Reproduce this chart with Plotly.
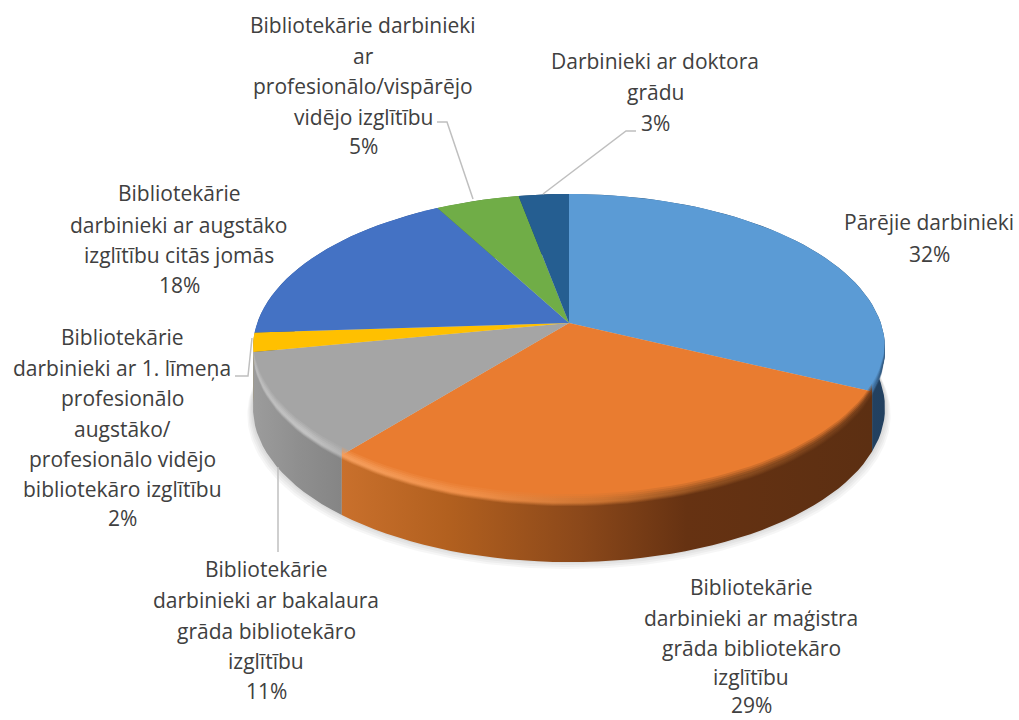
import numpy as np
import plotly.graph_objects as go

# --- data (clockwise from 12 o'clock) ---
categories = ["Pārējie darbinieki",
              "Bibliotekārie darbinieki ar maģistra grāda bibliotekāro izglītību",
              "Bibliotekārie darbinieki ar bakalaura grāda bibliotekāro izglītību",
              "Bibliotekārie darbinieki ar 1. līmeņa profesionālo augstāko/ profesionālo vidējo bibliotekāro izglītību",
              "Bibliotekārie darbinieki ar augstāko izglītību citās jomās",
              "Bibliotekārie darbinieki ar profesionālo/vispārējo vidējo izglītību",
              "Darbinieki ar doktora grādu"]
values = [32, 29, 11, 2, 18, 5, 3]
face_colors = ["#5B9BD5", "#E97C30", "#A5A5A5", "#FFC000", "#4472C4", "#70AD47", "#255E91"]
wall_stops = [
    [[0, "#2B5A85"], [1, "#22405F"]],
    [[0, "#C9702C"], [0.2, "#B2601F"], [0.45, "#8B481A"], [0.65, "#663212"], [1, "#5C2F12"]],
    [[0, "#9C9C9C"], [0.5, "#8F8F8F"], [1, "#858585"]],
    [[0, "#B88A00"], [1, "#B88A00"]],
    [[0, "#2F5597"], [1, "#2F5597"]],
    [[0, "#4E7A31"], [1, "#4E7A31"]],
    [[0, "#1A4266"], [1, "#1A4266"]],
]
rim_stops = [
    [[0, "#3F6F9E"], [1, "#2A4F74"]],
    [[0, "#F59E5C"], [0.25, "#F08F48"], [0.5, "#C97230"], [0.7, "#8A4C1E"], [1, "#6B3817"]],
    [[0, "#BDBDBD"], [0.6, "#C4C4C4"], [1, "#B4B4B4"]],
]

label_lines = [
    ["Pārējie darbinieki", "32%"],
    ["Bibliotekārie", "darbinieki ar maģistra", "grāda bibliotekāro", "izglītību", "29%"],
    ["Bibliotekārie", "darbinieki ar bakalaura", "grāda bibliotekāro", "izglītību", "11%"],
    ["Bibliotekārie", "darbinieki ar 1. līmeņa", "profesionālo", "augstāko/", "profesionālo vidējo",
     "bibliotekāro izglītību", "2%"],
    ["Bibliotekārie", "darbinieki ar augstāko", "izglītību citās jomās", "18%"],
    ["Bibliotekārie darbinieki", "ar", "profesionālo/vispārējo", "vidējo izglītību", "5%"],
    ["Darbinieki ar doktora", "grādu", "3%"],
]
label_x = [929, 751, 266, 122, 179, 363, 655]
label_y = [[222, 254], [587, 618, 648, 677, 705], [569, 600, 631, 661, 691],
           [337, 368, 398, 429, 459, 489, 518], [193, 225, 255, 285],
           [25, 56, 86, 117, 146], [61, 92, 123]]
leaders = [
    [(437, 122), (447, 122), (473, 199)],
    [(636, 131), (626, 131), (543, 194)],
    [(235, 376), (248, 376), (252, 338)],
    [(278, 467), (278, 552)],
]

# --- projection of the tilted disc onto the page ---
CX, CY = 569, 323
K = 0.1624
A, B = 311.8, 150.0
DEPTH = 60


def project(theta):
    u, v = np.sin(theta), np.cos(theta)
    w = 1 + K * v
    return CX + A * u / w, CY - B * v / w


def arc(t0, t1, n=160):
    return project(np.linspace(t0, t1, max(int(n * (t1 - t0) / 6.28), 8)))


fig = go.Figure()


def poly(x, y, **kw):
    fig.add_trace(go.Scatter(x=list(x), y=list(y), mode="lines", fill="toself",
                             line=dict(width=0), hoverinfo="skip", showlegend=False, **kw))


edges = np.concatenate([[0], np.cumsum(values)]) / sum(values) * 2 * np.pi

# soft shadow
full = np.linspace(0, 2 * np.pi, 361)
fx, fy = project(full)
for d in (9, 7, 5, 3, 1):
    poly(CX + (fx - CX) * (1 + d / 500), fy + DEPTH + d - 2, fillcolor="rgba(0,0,0,0.035)")

# walls, back to front
for i in (4, 5, 6, 3, 0, 2, 1):
    x, y = arc(edges[i], edges[i + 1])
    xs = np.concatenate([x, x[::-1]])
    ys = np.concatenate([y, y[::-1] + DEPTH])
    poly(xs, ys, fillcolor=face_colors[i],
         fillgradient=dict(type="horizontal", colorscale=wall_stops[i],
                           start=float(xs.min()), stop=float(xs.max())))

# top faces
for i, c in enumerate(face_colors):
    x, y = arc(edges[i], edges[i + 1])
    poly(np.concatenate([[CX], x, [CX]]), np.concatenate([[CY], y, [CY]]), fillcolor=c,
         name=categories[i])

# rim bevel, lying over the edge between face and wall (front half of the disc only)
FRONT_START = np.radians(97)
FRONT_END = np.radians(263)
for up, down, op in ((8, 4, 0.25), (6, 3, 0.35), (4, 2, 0.55), (2, 1, 0.8)):
    for i in (0, 2, 1):
        x, y = arc(max(edges[i], FRONT_START), min(edges[i + 1], FRONT_END))
        xs = np.concatenate([x, x[::-1]])
        ys = np.concatenate([y - up, y[::-1] + down])
        poly(xs, ys, opacity=op, fillcolor=face_colors[i],
             fillgradient=dict(type="horizontal", colorscale=rim_stops[i],
                               start=float(xs.min()), stop=float(xs.max())))

# leader lines
for seg in leaders:
    fig.add_trace(go.Scatter(x=[p[0] for p in seg], y=[p[1] for p in seg], mode="lines",
                             line=dict(color="#BFBFBF", width=1.5), hoverinfo="skip",
                             showlegend=False))

# labels
for lines, lx, ys in zip(label_lines, label_x, label_y):
    for t, ly in zip(lines, ys):
        fig.add_annotation(x=lx, y=ly, text=t, showarrow=False, xanchor="center", yanchor="middle",
                           font=dict(family="Open Sans", size=21, color="#404040"))

fig.update_layout(width=1019, height=720, margin=dict(l=0, r=0, t=0, b=0),
                  paper_bgcolor="white", plot_bgcolor="white", showlegend=False,
                  xaxis=dict(range=[0, 1019], visible=False, fixedrange=True),
                  yaxis=dict(range=[720, 0], visible=False, fixedrange=True))
fig.write_html("out.html", config={"displayModeBar": False},
               post_script="document.body.style.margin='0';document.documentElement.style.overflow='hidden';")
